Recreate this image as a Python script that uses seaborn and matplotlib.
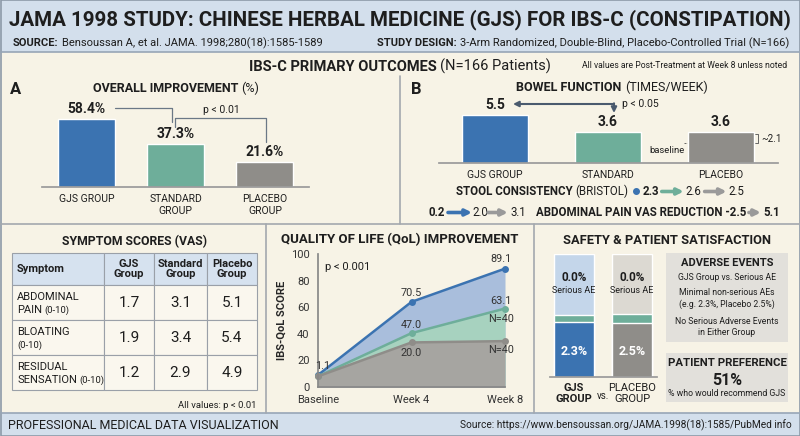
import matplotlib
matplotlib.use("Agg")
import numpy as np
import pandas as pd
import matplotlib.pyplot as plt
from matplotlib.patches import Rectangle
from matplotlib.text import Text
import seaborn as sns

# ==========================================================
# DATA
# ==========================================================
groups_a = ["GJS GROUP", "STANDARD\nGROUP", "PLACEBO\nGROUP"]
improvement_pct = [58.4, 37.3, 21.6]

groups_b = ["GJS GROUP", "STANDARD", "PLACEBO"]
bowel_per_week = [5.5, 3.6, 3.6]

vas_symptoms = [("ABDOMINAL", "PAIN"), ("BLOATING", ""), ("RESIDUAL", "SENSATION")]
vas_gjs = [1.7, 1.9, 1.2]
vas_std = [3.1, 3.4, 2.9]
vas_plc = [5.1, 5.4, 4.9]

qol_weeks = ["Baseline", "Week 4", "Week 8"]
qol_gjs = [9, 64, 89]
qol_std = [8, 40.5, 59]
qol_plc = [8, 33.5, 34.5]

safety_groups = ["GJS\nGROUP", "PLACEBO\nGROUP"]
ae_bottom_share = [44.7, 43.9]   # share of bar height as drawn
ae_mid_share = [5.7, 7.3]
ae_top_share = [49.6, 48.8]
ae_serious = ["0.0%", "0.0%"]
ae_nonserious = ["2.3%", "2.5%"]

BLUE, TEAL, GREY = "#3b73b1", "#6eae9a", "#8f8d89"
HEAD_BG, CREAM, LINE = "#d3dfec", "#f7f3e6", "#a3a8ae"
INK = "#1e1e1e"

sns.set_theme(style="white")
plt.rcParams["font.family"] = ["Roboto", "DejaVu Sans"]
plt.rcParams["text.color"] = INK

W, H = 800, 436
fig = plt.figure(figsize=(W / 100, H / 100), dpi=100)
fig.patch.set_facecolor(CREAM)

bg = fig.add_axes([0, 0, 1, 1], zorder=0)
bg.set_xlim(0, W)
bg.set_ylim(H, 0)
bg.axis("off")


def px_axes(x0, y0, x1, y1):
    ax = fig.add_axes([x0 / W, 1 - y1 / H, (x1 - x0) / W, (y1 - y0) / H], zorder=2)
    ax.set_facecolor("none")
    return ax


def rich(x, y, parts, ha="left"):
    # parts: ("t", text, kw) | ("gap", px) | ("arrow", px, color) | ("dot", px, color)
    r = fig.canvas.get_renderer()
    items = []
    for p in parts:
        if p[0] == "t":
            t = bg.text(0, y, p[1], ha="left", va="baseline", **p[2])
            items.append((t, t.get_window_extent(r).width))
        else:
            items.append((p, p[1]))
    total = sum(w for _, w in items)
    cur = {"left": x, "center": x - total / 2, "right": x - total}[ha]
    for obj, w in items:
        if isinstance(obj, Text):
            obj.set_x(cur)
        elif obj[0] == "arrow":
            bg.annotate("", xy=(cur + w, y - 3.5), xytext=(cur, y - 3.5),
                        arrowprops=dict(arrowstyle="-|>", color=obj[2], lw=2.6,
                                        mutation_scale=9, shrinkA=0, shrinkB=0))
        elif obj[0] == "dot":
            bg.plot(cur + w / 2, y - 3.5, "o", color=obj[2], ms=4)
        cur += w


def B(size, **kw):
    return dict(fontsize=size, fontweight="bold", **kw)


def N(size, **kw):
    return dict(fontsize=size, **kw)


# ==========================================================
# BACKGROUND BANDS AND PANEL LINES
# ==========================================================
bg.add_patch(Rectangle((0, 0), W, 52, fc=HEAD_BG, ec="none"))
bg.add_patch(Rectangle((0, 413), W, 23, fc=HEAD_BG, ec="none"))
bg.plot([0, W], [52, 52], color="#97a6b6", lw=1.2)
bg.plot([0, W], [413, 413], color="#97a6b6", lw=1.2)
bg.plot([0, W], [224, 224], color=LINE, lw=1.2)
bg.plot([400, 400], [76, 224], color=LINE, lw=1.2)
bg.plot([266, 266], [224, 413], color=LINE, lw=1.2)
bg.plot([534, 534], [224, 413], color=LINE, lw=1.2)
bg.add_patch(Rectangle((0.5, 0.5), W - 1, H - 1, fc="none", ec="#8d9aa8", lw=1.2))

# ==========================================================
# HEADER
# ==========================================================
bg.text(400, 20, "JAMA 1998 STUDY: CHINESE HERBAL MEDICINE (GJS) FOR IBS-C (CONSTIPATION)",
        ha="center", va="center", fontsize=14.8, fontweight="bold")
rich(13, 46, [("t", "SOURCE:", B(8)), ("gap", 3),
              ("t", "Bensoussan A, et al. JAMA. 1998;280(18):1585-1589", N(8))])
rich(789, 46, [("t", "STUDY DESIGN:", B(8)), ("gap", 3),
               ("t", "3-Arm Randomized, Double-Blind, Placebo-Controlled Trial (N=166)", N(8))],
     ha="right")

rich(400, 71, [("t", "IBS-C PRIMARY OUTCOMES", B(10.5)), ("gap", 3),
               ("t", "(N=166 Patients)", N(10.5))], ha="center")
bg.text(787, 65, "All values are Post-Treatment at Week 8 unless noted",
        ha="right", va="center", fontsize=6.2)

# ==========================================================
# PANEL A: OVERALL IMPROVEMENT
# ==========================================================
bg.text(10, 89, "A", ha="left", va="center", fontsize=12, fontweight="bold")
rich(176, 92, [("t", "OVERALL IMPROVEMENT", B(9)), ("gap", 3), ("t", "(%)", N(9))], ha="center")

axA = px_axes(42, 100, 309.5, 187)
sns.barplot(x=groups_a, y=improvement_pct, hue=groups_a, palette=[BLUE, TEAL, GREY],
            legend=False, width=0.64, saturation=1, ax=axA)
axA.set_xlim(-0.5, 2.5)
axA.set_ylim(0, 74.7)
for c in axA.containers:
    axA.bar_label(c, fmt="%.1f%%", padding=2, fontsize=10, fontweight="bold")
sns.despine(ax=axA, left=True)
axA.spines["bottom"].set_color("#9a9a9a")
axA.set_yticks([])
axA.tick_params(axis="x", length=0, pad=5, labelsize=7.5, labelcolor=INK)
axA.set_xlabel("")
axA.set_ylabel("")

bk = dict(color="#6b7886", lw=0.9, clip_on=False)
axA.plot([0.32, 0.96, 0.96], [67.9, 67.9, 55.8], **bk)
axA.plot([0.99, 0.99, 2.01, 2.01], [51.5, 59.3, 59.3, 38.7], **bk)
axA.text(1.51, 66.2, "p < 0.01", ha="center", va="center", fontsize=7.5)

# ==========================================================
# PANEL B: BOWEL FUNCTION
# ==========================================================
bg.text(411, 89, "B", ha="left", va="center", fontsize=12, fontweight="bold")
rich(612, 91, [("t", "BOWEL FUNCTION", B(9)), ("gap", 3), ("t", "(TIMES/WEEK)", N(9))], ha="center")

axB = px_axes(438.5, 100, 777.5, 163)
sns.barplot(x=groups_b, y=bowel_per_week, hue=groups_b, palette=[BLUE, TEAL, GREY],
            legend=False, width=0.58, saturation=1, ax=axB)
axB.set_xlim(-0.5, 2.5)
axB.set_ylim(0, 7.24)
for c in axB.containers:
    axB.bar_label(c, fmt="%.1f", padding=2, fontsize=10, fontweight="bold")
sns.despine(ax=axB, left=True)
axB.spines["bottom"].set_color("#9a9a9a")
axB.set_yticks([])
axB.tick_params(axis="x", length=0, pad=5, labelsize=7.5, labelcolor=INK)
axB.set_xlabel("")
axB.set_ylabel("")

arr = dict(arrowstyle="-|>", color="#4a5a6e", lw=1.5, mutation_scale=8, shrinkA=0, shrinkB=0)
bg.annotate("", xy=(513, 104), xytext=(614, 104), arrowprops=arr)
bg.annotate("", xy=(614, 113), xytext=(614, 103.3), arrowprops=arr)
bg.text(622, 104, "p < 0.05", ha="left", va="center", fontsize=7.5)

bg.text(667, 150, "baseline", ha="center", va="center", fontsize=6.8, zorder=3)
bg.plot([684, 755], [143, 143], color="#666666", lw=0.7, ls=(0, (2, 1.5)), zorder=3)
bg.plot([755, 758, 758, 755], [134, 134, 143, 143], color="#666666", lw=0.7, zorder=3)
bg.text(761, 139, "~2.1", ha="left", va="center", fontsize=7)

rich(600, 195, [("t", "STOOL CONSISTENCY", B(8.3)), ("gap", 3), ("t", "(BRISTOL)", N(8.3)),
                ("gap", 5), ("dot", 5, BLUE), ("gap", 4), ("t", "2.3", B(8.3)), ("gap", 3),
                ("arrow", 22, TEAL), ("gap", 2), ("t", "2.6", N(8.3)), ("gap", 3),
                ("arrow", 22, "#9a9a9a"), ("gap", 2), ("t", "2.5", N(8.3))], ha="center")
rich(604, 216, [("t", "0.2", B(8.3)), ("gap", 3), ("arrow", 24, BLUE), ("t", "2.0", N(8.3)),
                ("arrow", 20, "#9a9a9a"), ("gap", 3), ("t", "3.1", N(8.3)), ("gap", 10),
                ("t", "ABDOMINAL PAIN VAS REDUCTION -2.5", B(8.3)), ("gap", 2),
                ("arrow", 12, "#9a9a9a"), ("gap", 2), ("t", "5.1", B(8.3))], ha="center")

# ==========================================================
# SYMPTOM SCORES TABLE
# ==========================================================
bg.text(134, 242, "SYMPTOM SCORES (VAS)", ha="center", va="center", fontsize=8.8, fontweight="bold")
col_x = [12, 104, 154, 207, 257]
row_y = [253, 285, 320, 355, 390]
for r in range(4):
    for c in range(4):
        bg.add_patch(Rectangle((col_x[c], row_y[r]), col_x[c + 1] - col_x[c],
                               row_y[r + 1] - row_y[r], fc="#d6e2ef" if r == 0 else "#faf7ee",
                               ec="#9aa0a8", lw=0.8))
bg.text(17, 269, "Symptom", ha="left", va="center", fontsize=8, fontweight="bold")
for c, head in enumerate(["GJS\nGroup", "Standard\nGroup", "Placebo\nGroup"]):
    bg.text((col_x[c + 1] + col_x[c + 2]) / 2, 269, head, ha="center", va="center",
            fontsize=8, fontweight="bold", linespacing=1.0)
for r, (l1, l2) in enumerate(vas_symptoms):
    top = row_y[r + 1]
    bg.text(17, top + 15, l1, ha="left", va="baseline", fontsize=8)
    parts = [("t", l2, N(8)), ("gap", 2)] if l2 else []
    rich(17, top + 28, parts + [("t", "(0-10)", N(6.8))])
    for c, vals in enumerate([vas_gjs, vas_std, vas_plc]):
        bg.text((col_x[c + 1] + col_x[c + 2]) / 2, top + 17.5, f"{vals[r]:.1f}",
                ha="center", va="center", fontsize=11)
bg.text(256, 405, "All values: p < 0.01", ha="right", va="center", fontsize=6.8)

# ==========================================================
# QUALITY OF LIFE
# ==========================================================
bg.text(400, 240, "QUALITY OF LIFE (QoL) IMPROVEMENT", ha="center", va="center",
        fontsize=9.5, fontweight="bold")
axQ = px_axes(318, 254, 505, 387)
pos = np.arange(len(qol_weeks))
axQ.fill_between(pos, qol_gjs, 0, color="#a9bedc", lw=0)
axQ.fill_between(pos, qol_std, 0, color="#a7d2bf", lw=0)
axQ.fill_between(pos, qol_plc, 0, color="#a6a5a1", lw=0)
qol_df = pd.DataFrame({
    "pos": np.tile(pos, 3),
    "score": qol_gjs + qol_std + qol_plc,
    "group": ["GJS"] * 3 + ["Standard"] * 3 + ["Placebo"] * 3,
})
sns.lineplot(data=qol_df, x="pos", y="score", hue="group",
             palette={"GJS": BLUE, "Standard": TEAL, "Placebo": GREY},
             marker="o", markersize=5, markeredgewidth=0, linewidth=1.8,
             legend=False, ax=axQ)
for ln in axQ.lines:
    ln.set_clip_on(False)
axQ.set_xlim(0, 2)
axQ.set_ylim(0, 100)
axQ.set_xticks(pos, qol_weeks)
axQ.set_yticks([0, 20, 40, 60, 80, 100])
axQ.tick_params(length=3, color="#888888", labelsize=8, labelcolor="#333333", pad=3)
sns.despine(ax=axQ)
for s in ["left", "bottom"]:
    axQ.spines[s].set_color("#888888")
axQ.set_xlabel("")
axQ.set_ylabel("IBS-QoL SCORE", fontsize=8, fontweight="bold", labelpad=3)
axQ.text(0.04, 0.9, "p < 0.001", transform=axQ.transAxes, ha="left", va="center", fontsize=8)

lab = dict(textcoords="offset pixels", ha="center", va="center", fontsize=7.8, color="#333333")
axQ.annotate("1.1", (0, qol_gjs[0]), xytext=(5, 9), **lab)
axQ.annotate("70.5", (1, qol_gjs[1]), xytext=(0, 9), **lab)
axQ.annotate("89.1", (2, qol_gjs[2]), xytext=(-4, 10), **lab)
axQ.annotate("47.0", (1, qol_std[1]), xytext=(0, 8), **lab)
axQ.annotate("63.1", (2, qol_std[2]), xytext=(-4, 8), **lab)
axQ.annotate("N=40", (2, qol_std[2]), xytext=(-4, -10), **lab)
axQ.annotate("20.0", (1, qol_plc[1]), xytext=(0, -11), **lab)
axQ.annotate("N=40", (2, qol_plc[2]), xytext=(-4, -9), **lab)

# ==========================================================
# SAFETY & PATIENT SATISFACTION
# ==========================================================
bg.text(667, 240, "SAFETY & PATIENT SATISFACTION", ha="center", va="center",
        fontsize=9.3, fontweight="bold")
axS = px_axes(550, 254, 657, 377)
tot = [b + m + t for b, m, t in zip(ae_bottom_share, ae_mid_share, ae_top_share)]
low = [b + m for b, m in zip(ae_bottom_share, ae_mid_share)]
for heights, cols in [(tot, ["#c4d6ea", "#dcd9d2"]), (low, [TEAL, TEAL]),
                      (ae_bottom_share, [BLUE, GREY])]:
    sns.barplot(x=safety_groups, y=heights, hue=safety_groups, palette=cols,
                legend=False, width=0.69, saturation=1, ax=axS)
axS.set_xlim(-0.414, 1.43)
axS.set_ylim(0, 100)
for i in range(len(safety_groups)):
    axS.text(i, 80.5, ae_serious[i], ha="center", va="center", fontsize=8.5, fontweight="bold")
    axS.text(i, 70.7, "Serious AE", ha="center", va="center", fontsize=6.5)
    axS.text(i, ae_bottom_share[i] * 0.47, ae_nonserious[i], ha="center", va="center",
             fontsize=9, fontweight="bold", color="white")
sns.despine(ax=axS, left=True)
axS.spines["bottom"].set_color("#9a9a9a")
axS.set_yticks([])
axS.tick_params(axis="x", length=0, pad=4, labelsize=8, labelcolor=INK)
axS.get_xticklabels()[0].set_fontweight("bold")
axS.set_xlabel("")
axS.set_ylabel("")
bg.text(603, 396, "vs.", ha="center", va="center", fontsize=7)

bg.add_patch(Rectangle((666, 253), 122, 89, fc="#e2e0db", ec="none"))
bg.text(727, 263, "ADVERSE EVENTS", ha="center", va="center", fontsize=8, fontweight="bold")
bg.text(727, 277, "GJS Group vs. Serious AE", ha="center", va="center", fontsize=6.2)
bg.text(727, 298.5, "Minimal non-serious AEs\n(e.g. 2.3%, Placebo 2.5%)", ha="center",
        va="center", fontsize=6.2, linespacing=1.2)
bg.text(727, 327, "No Serious Adverse Events\nin Either Group", ha="center",
        va="center", fontsize=6.2, linespacing=1.2)

bg.add_patch(Rectangle((666, 353), 122, 49, fc="#e2e0db", ec="none"))
bg.text(727, 363, "PATIENT PREFERENCE", ha="center", va="center", fontsize=8.2, fontweight="bold")
bg.text(727, 380, "51%", ha="center", va="center", fontsize=11.5, fontweight="bold")
bg.text(727, 393, "% who would recommend GJS", ha="center", va="center", fontsize=6.3)

# ==========================================================
# FOOTER
# ==========================================================
bg.text(8, 425, "PROFESSIONAL MEDICAL DATA VISUALIZATION", ha="left", va="center", fontsize=9)
bg.text(792, 425, "Source: https://www.bensoussan.org/JAMA.1998(18):1585/PubMed info",
        ha="right", va="center", fontsize=7.3)

fig.savefig("out.png", dpi=100, facecolor=fig.get_facecolor())
